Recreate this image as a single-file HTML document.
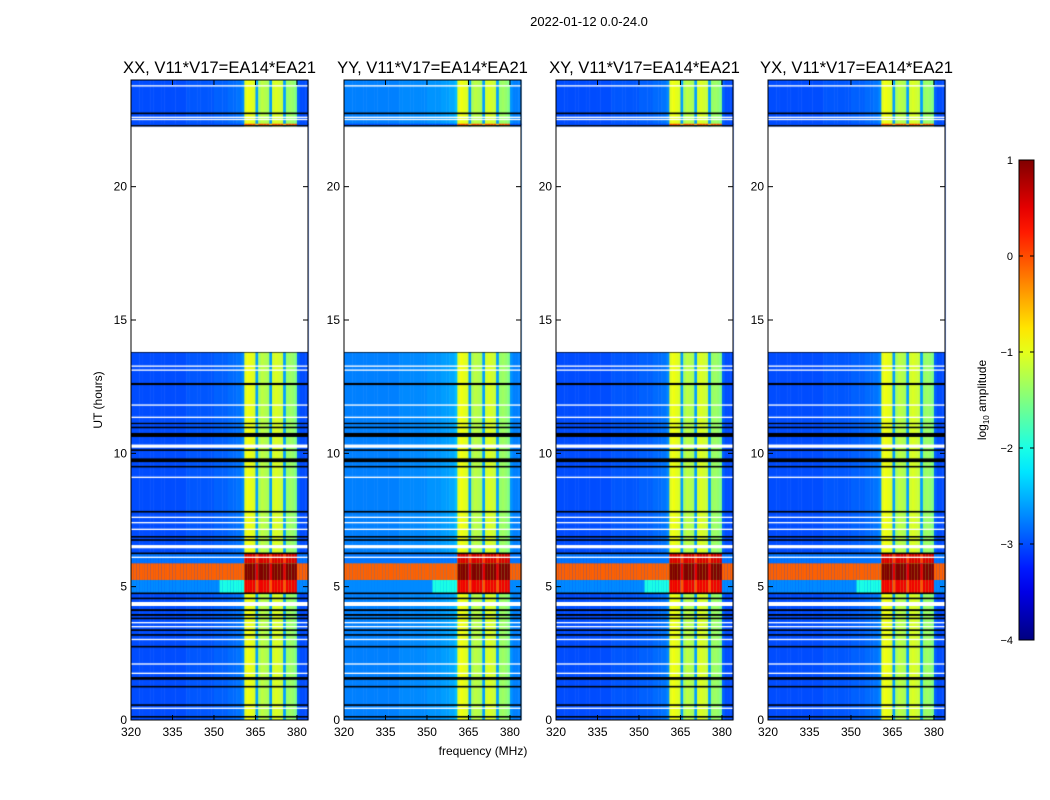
<!DOCTYPE html>
<html><head><meta charset="utf-8"><style>
body{margin:0;background:#fff;width:1050px;height:800px;overflow:hidden;position:relative;font-family:"Liberation Sans",sans-serif}
canvas{position:absolute}
svg{position:absolute;left:0;top:0}
</style></head><body>
<div id="canv"></div>
<svg id="ax" width="1050" height="800"></svg>
<script>
// ---- data ----
const panelTitles = ["XX, V11*V17=EA14*EA21","YY, V11*V17=EA14*EA21","XY, V11*V17=EA14*EA21","YX, V11*V17=EA14*EA21"];
const panelLeftOffset = [0, 0.25, 0, 0];
const freqStart = [];
for (let f = 320; f < 384; f++) freqStart.push(f);
// log10 amplitude profile per 1-MHz column
const freqLevel = [
 -3.0,-3.0,-3.0,-3.0,-3.0,-3.0,-3.0,-3.0,-3.0,-3.0,
 -3.0,-3.0,-3.0,-3.0,-3.0,-3.0,-3.0,-3.0,-3.0,-3.0,
 -2.95,-2.95,-2.95,-2.95,-2.95,-2.95,-2.95,-2.95,-2.95,-2.95,
 -2.9,-2.9,-2.9,-2.9,-2.9,-2.85,-2.85,-2.85,-2.8,-2.8,
 -2.7,-1.0,-0.95,-1.0,-1.05,-2.6,-1.3,-1.2,-1.25,-1.3,
 -2.6,-1.1,-1.05,-1.1,-1.15,-2.6,-1.4,-1.35,-1.4,-1.5,
 -2.9,-3.0,-3.0,-3.0
];
// strong RFI rows: time start, time end, level outside band, level inside band, level just below band (352-360 MHz)
const rfiStart = [5.875, 5.25, 4.75, 22.3];
const rfiEnd   = [6.25,  5.875, 5.25, 22.36];
const rfiLeft  = [-2.8, -0.1, -2.7, -3.0];
const rfiBand  = [0.55, 1.0, 0.45, 0.0];
const rfiEdge  = [-2.8, -0.1, -2.0, -3.0];
// flagged rows: time centre, thickness (hours), kind (k=black, w=white)
const flagTime = [23.78,22.75,22.6,22.52,22.28,13.81,13.27,13.12,12.6,11.81,11.35,11.12,10.97,10.69,10.27,10.12,9.74,9.5,9.1,7.81,7.6,7.4,7.15,6.87,6.75,6.5,6.25,6.1,4.75,4.56,4.35,4.12,3.94,3.81,3.65,3.5,3.37,3.19,3.02,2.75,2.1,1.75,1.56,1.25,0.56,0.44,0.12];
const flagSize = [0.05,0.06,0.05,0.05,0.06,0.07,0.05,0.05,0.08,0.05,0.05,0.05,0.06,0.15,0.12,0.06,0.14,0.06,0.05,0.06,0.05,0.05,0.05,0.06,0.06,0.12,0.06,0.05,0.06,0.06,0.15,0.07,0.07,0.06,0.05,0.05,0.06,0.06,0.05,0.06,0.05,0.05,0.1,0.06,0.06,0.05,0.06];
const flagKind = ["w","k","w","w","k","k","w","w","k","w","w","k","k","k","w","k","k","k","w","k","w","w","w","k","k","w","k","w","k","k","w","k","k","k","w","w","k","k","w","k","w","w","k","k","k","w","k"];
const gapStart = 13.8, gapEnd = 22.25;
const xTicks = [320,335,350,365,380];
const yTicks = [0,5,10,15,20];
const cbTicks = [1,0,-1,-2,-3,-4];

// ---- layout ----
const panelX = [131,344,556,768], panelW = 177, plotTop = 80, plotBot = 720;
const fMin = 320, fMax = 384, tMin = 0, tMax = 24;
const xs = (f,i) => panelX[i] + (f - fMin) / (fMax - fMin) * panelW;
const ys = t => plotBot - (t - tMin) / (tMax - tMin) * (plotBot - plotTop);
function jet(v){
  let t = (v + 4) / 5; t = Math.max(0, Math.min(1, t));
  const c = x => Math.round(255*Math.max(0, Math.min(1, x)));
  return `rgb(${c(1.5-Math.abs(4*t-3))},${c(1.5-Math.abs(4*t-2))},${c(1.5-Math.abs(4*t-1))})`;
}
const holder = document.getElementById('canv');
panelTitles.forEach((title, i) => {
  const cv = document.createElement('canvas');
  
  
  cv.width = 1050; cv.height = 800; cv.style.left = '0px'; cv.style.top = '0px';
  holder.appendChild(cv);
  const g = cv.getContext('2d');
  const inBand = f => f >= 361 && f < 380;
  freqStart.forEach((f, c) => {
    const x0 = xs(f, i), x1 = xs(f+1, i);
    const v = freqLevel[c] + (inBand(f) ? 0 : panelLeftOffset[i]);
    g.fillStyle = jet(v);
    g.fillRect(x0, ys(tMax), x1-x0+0.5, ys(tMin)-ys(tMax));
    rfiStart.forEach((s, r) => {
      let rv;
      if (inBand(f)) rv = freqLevel[c] > -2 ? rfiBand[r] : rfiBand[r] - 0.5;
      else if (f >= 352 && f < 361) rv = rfiEdge[r];
      else rv = rfiLeft[r];
      g.fillStyle = jet(rv);
      g.fillRect(x0, ys(rfiEnd[r]), x1-x0+0.5, ys(s)-ys(rfiEnd[r]));
    });
  });
  flagTime.forEach((t, k) => {
    g.fillStyle = flagKind[k] === 'k' ? '#000' : '#fff';
    const y0 = ys(t + flagSize[k]/2), y1 = ys(t - flagSize[k]/2);
    g.fillRect(panelX[i], y0, panelW, Math.max(1.2, y1-y0));
  });
  g.fillStyle = '#fff';
  g.fillRect(panelX[i], ys(gapEnd), panelW, ys(gapStart)-ys(gapEnd));
});

// ---- axes ----
const svg = document.getElementById('ax');
const NS = 'http://www.w3.org/2000/svg';
function mk(tag, attrs, text){ const e = document.createElementNS(NS, tag); for (const k in attrs) e.setAttribute(k, attrs[k]); if (text !== undefined) e.textContent = text; svg.appendChild(e); return e; }
panelTitles.forEach((title, i) => {
  const fr = mk('rect', {x:panelX[i], y:plotTop, width:panelW, height:plotBot-plotTop, fill:'none', stroke:'#000', 'stroke-width':1});
  
  
  const tt = mk('text', {x:panelX[i]+panelW/2, y:73, 'text-anchor':'middle', 'font-size':16.6}, title);
  
  
  xTicks.forEach(v => {
    const x = xs(v, i);
    mk('line', {x1:x, x2:x, y1:plotBot, y2:plotBot-5, stroke:'#000'});
    mk('line', {x1:x, x2:x, y1:plotTop, y2:plotTop+5, stroke:'#000'});
    const l = mk('text', {x:x, y:plotBot+16, 'text-anchor':'middle', 'font-size':12}, v);
    
    
  });
  yTicks.forEach(v => {
    const y = ys(v);
    mk('line', {x1:panelX[i], x2:panelX[i]+5, y1:y, y2:y, stroke:'#000'});
    mk('line', {x1:panelX[i]+panelW, x2:panelX[i]+panelW-5, y1:y, y2:y, stroke:'#000'});
    const l = mk('text', {x:panelX[i]-4, y:y+4, 'text-anchor':'end', 'font-size':12}, v);
    
    
  });
});
const st = mk('text', {x:589, y:26, 'text-anchor':'middle', 'font-size':13}, '2022-01-12 0.0-24.0');


const yl = mk('text', {x:102, y:400, 'text-anchor':'middle', 'font-size':12, transform:'rotate(-90 102 400)'}, 'UT (hours)');


const xl = mk('text', {x:483, y:755, 'text-anchor':'middle', 'font-size':12}, 'frequency (MHz)');



// colorbar
const cbX = 1019, cbW = 15, cbTop = 160, cbBot = 640;
const defs = mk('defs', {});
const grad = document.createElementNS(NS, 'linearGradient');
grad.setAttribute('id', 'jetg'); grad.setAttribute('x1', '0'); grad.setAttribute('y1', '1'); grad.setAttribute('x2', '0'); grad.setAttribute('y2', '0');
defs.appendChild(grad);
for (let k = 0; k <= 20; k++) {
  const s = document.createElementNS(NS, 'stop');
  s.setAttribute('offset', k/20); s.setAttribute('stop-color', jet(-4 + 5*k/20));
  grad.appendChild(s);
}
const cb = mk('rect', {x:cbX, y:cbTop, width:cbW, height:cbBot-cbTop, fill:'url(#jetg)', stroke:'#000'});


cbTicks.forEach(v => {
  const y = cbBot - (v + 4) / 5 * (cbBot - cbTop);
  mk('line', {x1:cbX, x2:cbX+4, y1:y, y2:y, stroke:'#000'});
  mk('line', {x1:cbX+cbW, x2:cbX+cbW-4, y1:y, y2:y, stroke:'#000'});
  const l = mk('text', {x:1013, y:y+4, 'text-anchor':'end', 'font-size':11}, v < 0 ? '\u2212' + (-v) : String(v));
  
  
});
const cl = mk('text', {x:986, y:400, 'text-anchor':'middle', 'font-size':12, transform:'rotate(-90 986 400)'});


cl.innerHTML = 'log<tspan font-size="8" dy="3">10</tspan><tspan dy="-3"> amplitude</tspan>';
</script>
</body></html>
